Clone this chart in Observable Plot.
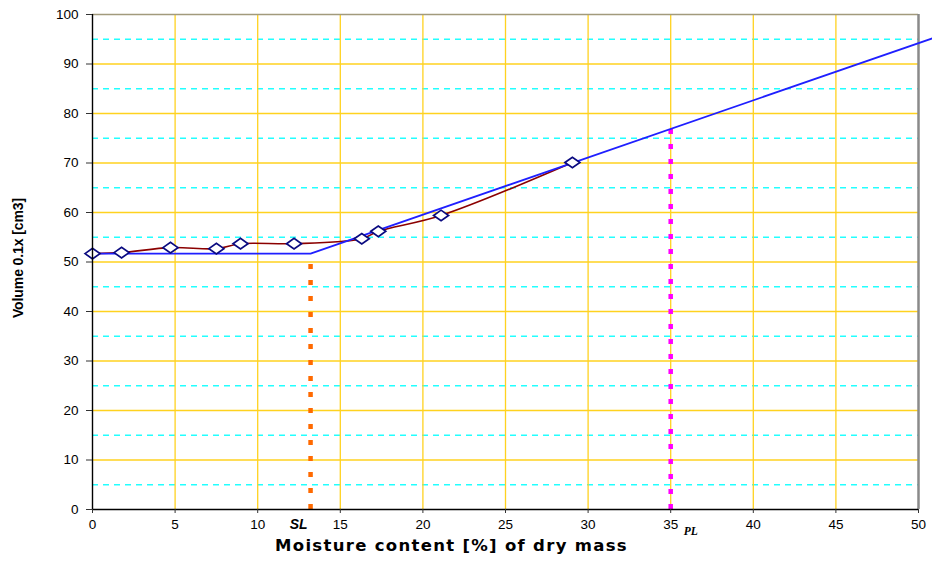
<!DOCTYPE html>
<html>
<head>
<meta charset="utf-8">
<script src="https://cdn.jsdelivr.net/npm/d3@7"></script>
<script src="https://cdn.jsdelivr.net/npm/@observablehq/plot@0.6"></script>
<style>
  html, body { margin: 0; padding: 0; background: #fff; }
  #chart svg { display: block; font-family: "Liberation Sans", Arial, sans-serif; }
  .xtitle text { letter-spacing: 1.3px; }
  .ytitle text { letter-spacing: -0.1px; }
</style>
</head>
<body>
<div id="chart"></div>
<script>
// Measured data (moisture %, volume 0.1x cm3)
const moisture = [0, 1.76, 4.72, 7.5, 8.96, 12.2, 16.3, 17.3, 21.1, 29.05];
const volume   = [51.7, 51.9, 52.9, 52.7, 53.7, 53.7, 54.7, 56.2, 59.4, 70.1];

// Idealised shrinkage line (blue)
const shrinkX = [0, 13.2, 50.85];
const shrinkY = [51.7, 51.7, 95.2];

// Limits
const SL = 13.2, SLtop = 50.5;
const PL = 35, PLtop = 78;

const xTicks = [0, 5, 10, 15, 20, 25, 30, 35, 40, 45, 50];
const yTicks = [0, 10, 20, 30, 40, 50, 60, 70, 80, 90, 100];
const yMinor = [5, 15, 25, 35, 45, 55, 65, 75, 85, 95];
const xGrid = [5, 10, 15, 20, 25, 30, 35, 40, 45];
const yGrid = [10, 20, 30, 40, 50, 60, 70, 80, 90];

const xTitle = "Moisture content [%] of dry mass";
const yTitle = "Volume 0.1x [cm3]";

const measured = moisture.map((x, i) => ({x, y: volume[i]}));
const shrink = shrinkX.map((x, i) => ({x, y: shrinkY[i]}));

const wideDiamond = {
  draw(ctx) {
    ctx.moveTo(-7.5, 0); ctx.lineTo(0, -5.3); ctx.lineTo(7.5, 0); ctx.lineTo(0, 5.3); ctx.closePath();
  }
};

const gold = "#FFD21F";
const font = "Liberation Sans, Arial, sans-serif";

const chart = Plot.plot({
  width: 932,
  height: 562,
  marginLeft: 92,
  marginRight: 14,
  marginTop: 14,
  marginBottom: 53,
  x: {domain: [0, 50]},
  y: {domain: [0, 100]},
  style: {fontFamily: font, background: "#fff"},
  marks: [
    Plot.ruleY(yMinor, {stroke: "#22ffff", strokeWidth: 1.3, strokeDasharray: "6,5"}),
    Plot.ruleY(yGrid, {stroke: gold, strokeWidth: 1.3}),
    Plot.ruleX(xGrid, {stroke: gold, strokeWidth: 1.3}),
    Plot.ruleY([100], {stroke: "#a29a7c", strokeWidth: 1.6}),
    Plot.ruleX([50], {stroke: "#8a8a8a", strokeWidth: 2.5}),
    Plot.ruleX([SL], {y1: 0, y2: SLtop, stroke: "#ff6a00", strokeWidth: 4.5, strokeDasharray: "5,11"}),
    Plot.ruleX([PL], {y1: 0, y2: PLtop, stroke: "#ff00ff", strokeWidth: 4.5, strokeDasharray: "5,10"}),
    Plot.line(measured, {x: "x", y: "y", stroke: "#8b0000", strokeWidth: 1.6, curve: "catmull-rom"}),
    Plot.line(shrink, {x: "x", y: "y", stroke: "#1f1fff", strokeWidth: 1.8}),
    Plot.dot(measured, {x: "x", y: "y", symbol: wideDiamond, fill: "#fff", stroke: "#0a0a80", strokeWidth: 1.7}),
    Plot.ruleX([0], {stroke: "#000", strokeWidth: 1.4}),
    Plot.ruleY([0], {stroke: "#000", strokeWidth: 1.4}),
    Plot.axisY(yTicks, {tickSize: 6, tickPadding: 8, fontSize: 13.5, label: null, stroke: "#333", fill: "#000"}),
    Plot.axisX(xTicks, {tickSize: 4, tickPadding: 6, fontSize: 13.5, label: null, stroke: "#333", fill: "#000"}),
    Plot.text(["SL"], {x: [SL], y: [0], dx: -12, dy: 10, lineAnchor: "top", fontSize: 14, fontWeight: "bold", fontStyle: "italic", fill: "#000"}),
    Plot.text(["PL"], {x: [PL], y: [0], dx: 20, dy: 17, lineAnchor: "top", fontSize: 11.5, fontWeight: "bold", fontStyle: "italic", fontFamily: "Liberation Serif, serif", fill: "#000"}),
    Plot.text([xTitle], {className: "xtitle", frameAnchor: "bottom", dx: -54, dy: 41, fontSize: 16.5, fontWeight: "bold", fontFamily: "DejaVu Sans, sans-serif", fill: "#000"}),
    Plot.text([yTitle], {className: "ytitle", frameAnchor: "left", textAnchor: "middle", dx: -74, dy: -4, rotate: -90, fontSize: 14, fontWeight: "bold", fill: "#000"})
  ]
});
document.getElementById("chart").appendChild(chart);
</script>
</body>
</html>
